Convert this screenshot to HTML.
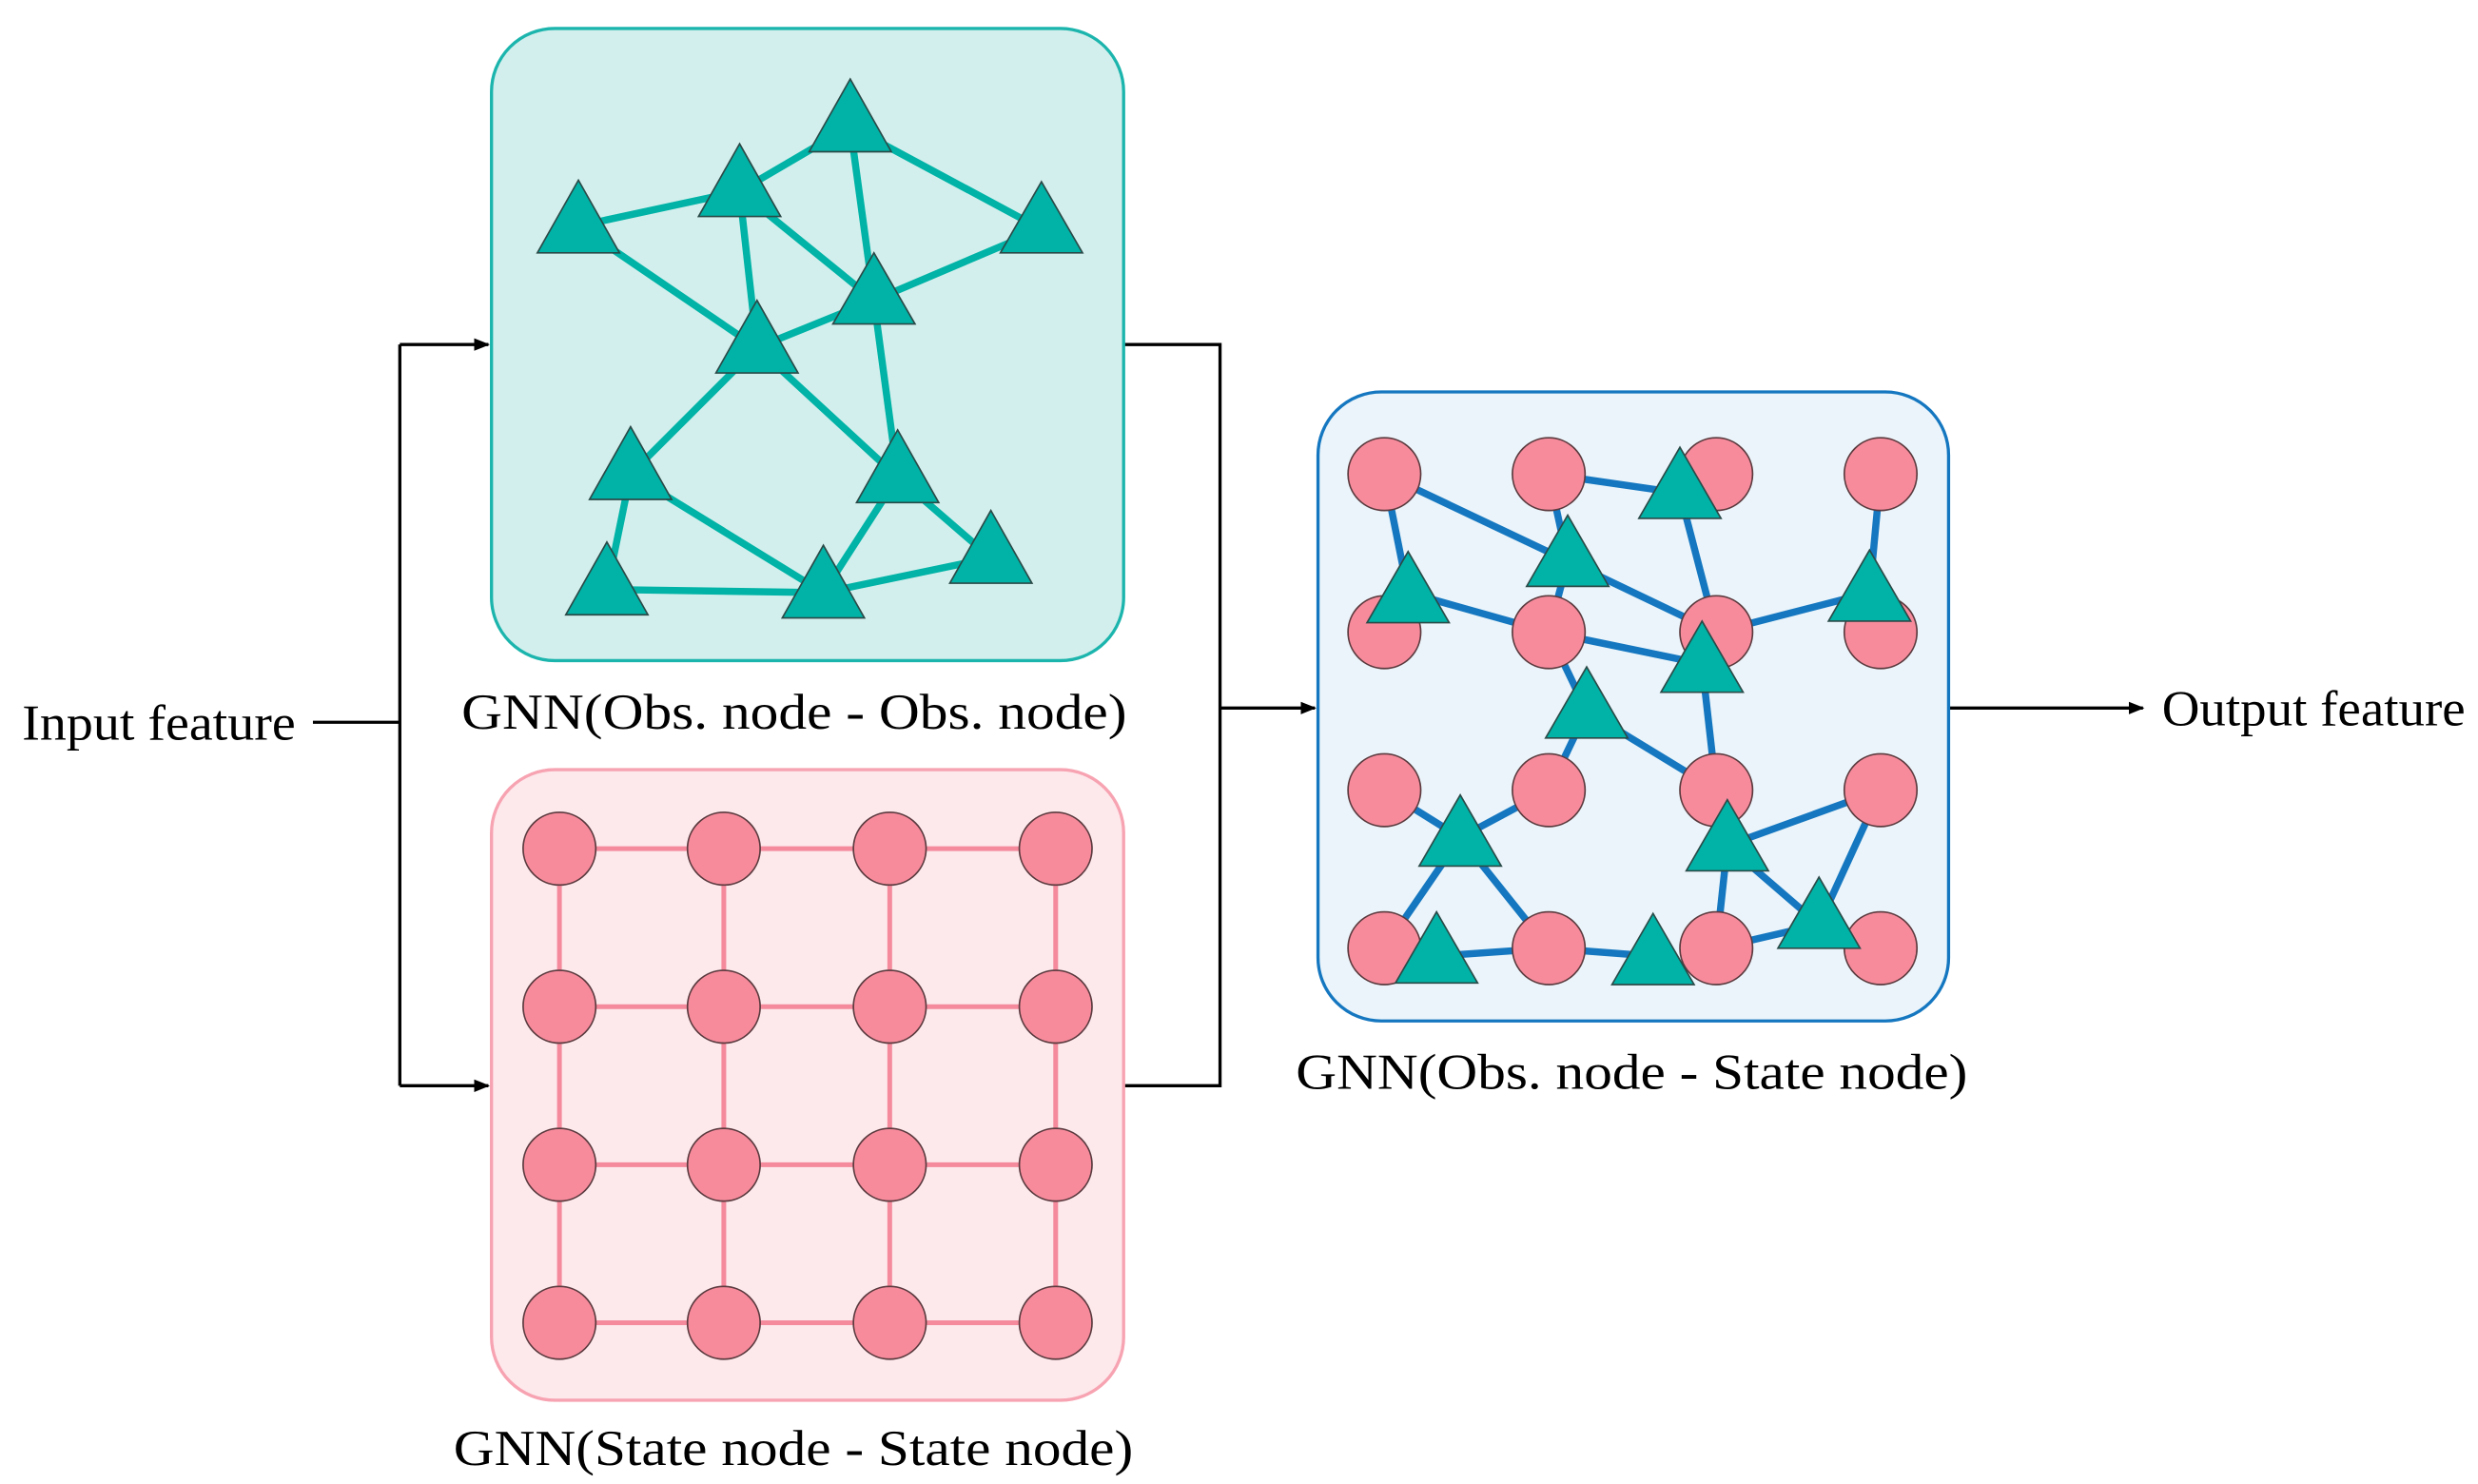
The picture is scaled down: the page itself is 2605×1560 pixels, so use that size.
<!DOCTYPE html>
<html><head><meta charset="utf-8"><style>
html,body{margin:0;padding:0;background:#fff}
svg{display:block}
text{font-family:"Liberation Serif",serif;font-size:32px;fill:#000}
</style></head><body>
<svg width="2605" height="1560" viewBox="0 0 1568 939" xmlns="http://www.w3.org/2000/svg">
<defs><marker id="ar" markerWidth="10" markerHeight="8" refX="9" refY="4" orient="auto" markerUnits="userSpaceOnUse"><path d="M0,0 L10,4 L0,8 z" fill="#000"/></marker></defs>
<g stroke="#000" stroke-width="2" fill="none">
<path d="M198,457 H253"/>
<path d="M253,218 V687"/>
<path d="M253,218 H309" marker-end="url(#ar)"/>
<path d="M253,687 H309" marker-end="url(#ar)"/>
<path d="M711,218 H772 V687 H711"/>
<path d="M772,448 H832" marker-end="url(#ar)"/>
<path d="M1233,448 H1356" marker-end="url(#ar)"/>
</g>
<rect x="311" y="18" width="400" height="400" rx="40" fill="#d3efed" stroke="#1cb5ad" stroke-width="2"/>
<rect x="311" y="487" width="400" height="399" rx="40" fill="#fde8eb" stroke="#f7a3b1" stroke-width="2"/>
<rect x="834" y="248" width="399" height="398" rx="40" fill="#eaf4fa" stroke="#1577c0" stroke-width="2"/>
<g stroke="#00b3a6" stroke-width="4.5">
<line x1="366" y1="143" x2="468" y2="121"/><line x1="468" y1="121" x2="538" y2="80"/>
<line x1="538" y1="80" x2="659" y2="145"/><line x1="538" y1="80" x2="553" y2="190"/>
<line x1="468" y1="121" x2="553" y2="190"/><line x1="468" y1="121" x2="479" y2="220"/>
<line x1="366" y1="143" x2="479" y2="220"/><line x1="553" y1="190" x2="479" y2="220"/>
<line x1="659" y1="145" x2="553" y2="190"/><line x1="479" y1="220" x2="399" y2="300"/>
<line x1="479" y1="220" x2="568" y2="302"/><line x1="553" y1="190" x2="568" y2="302"/>
<line x1="399" y1="300" x2="384" y2="373"/><line x1="399" y1="300" x2="521" y2="375"/>
<line x1="384" y1="373" x2="521" y2="375"/><line x1="568" y1="302" x2="521" y2="375"/>
<line x1="568" y1="302" x2="627" y2="353"/><line x1="521" y1="375" x2="627" y2="353"/>
</g>
<g fill="#00b3a6" stroke="#2a4a48" stroke-width="1">
<path d="M366,114 L392,160 L340,160Z"/><path d="M468,91 L494,137 L442,137Z"/>
<path d="M538,50 L564,96 L512,96Z"/><path d="M659,115 L685,160 L633,160Z"/>
<path d="M553,160 L579,205 L527,205Z"/><path d="M479,190 L505,236 L453,236Z"/>
<path d="M399,270 L425,316 L373,316Z"/><path d="M568,272 L594,318 L542,318Z"/>
<path d="M384,343 L410,389 L358,389Z"/><path d="M521,345 L547,391 L495,391Z"/>
<path d="M627,323 L653,369 L601,369Z"/>
</g>
<g stroke="#f48a9c" stroke-width="3">
<line x1="354" y1="537" x2="668" y2="537"/><line x1="354" y1="637" x2="668" y2="637"/>
<line x1="354" y1="737" x2="668" y2="737"/><line x1="354" y1="837" x2="668" y2="837"/>
<line x1="354" y1="537" x2="354" y2="837"/><line x1="458" y1="537" x2="458" y2="837"/>
<line x1="563" y1="537" x2="563" y2="837"/><line x1="668" y1="537" x2="668" y2="837"/>
</g>
<g fill="#f78b9c" stroke="#5a3a3e" stroke-width="1">
<circle cx="354" cy="537" r="23"/><circle cx="458" cy="537" r="23"/><circle cx="563" cy="537" r="23"/><circle cx="668" cy="537" r="23"/>
<circle cx="354" cy="637" r="23"/><circle cx="458" cy="637" r="23"/><circle cx="563" cy="637" r="23"/><circle cx="668" cy="637" r="23"/>
<circle cx="354" cy="737" r="23"/><circle cx="458" cy="737" r="23"/><circle cx="563" cy="737" r="23"/><circle cx="668" cy="737" r="23"/>
<circle cx="354" cy="837" r="23"/><circle cx="458" cy="837" r="23"/><circle cx="563" cy="837" r="23"/><circle cx="668" cy="837" r="23"/>
</g>
<g stroke="#1577c0" stroke-width="4.5">
<line x1="876" y1="300" x2="891" y2="375"/><line x1="876" y1="300" x2="992" y2="355"/>
<line x1="980" y1="300" x2="1063" y2="312"/><line x1="980" y1="300" x2="992" y2="355"/>
<line x1="1063" y1="312" x2="1086" y2="400"/><line x1="1190" y1="300" x2="1183" y2="375"/>
<line x1="891" y1="375" x2="980" y2="400"/><line x1="992" y1="355" x2="980" y2="400"/>
<line x1="992" y1="355" x2="1086" y2="400"/><line x1="980" y1="400" x2="1077" y2="420"/>
<line x1="1086" y1="400" x2="1183" y2="375"/><line x1="980" y1="400" x2="1004" y2="450"/>
<line x1="1077" y1="420" x2="1086" y2="500"/><line x1="1004" y1="450" x2="980" y2="500"/>
<line x1="1004" y1="450" x2="1086" y2="500"/><line x1="876" y1="500" x2="924" y2="530"/>
<line x1="924" y1="530" x2="980" y2="500"/><line x1="924" y1="530" x2="876" y2="600"/>
<line x1="924" y1="530" x2="980" y2="600"/><line x1="909" y1="605" x2="980" y2="600"/>
<line x1="980" y1="600" x2="1046" y2="605"/><line x1="1093" y1="535" x2="1086" y2="600"/>
<line x1="1093" y1="535" x2="1190" y2="500"/><line x1="1093" y1="535" x2="1151" y2="585"/>
<line x1="1151" y1="585" x2="1190" y2="500"/><line x1="1086" y1="600" x2="1151" y2="585"/>
</g>
<g fill="#f78b9c" stroke="#5a3a3e" stroke-width="1">
<circle cx="876" cy="300" r="23"/><circle cx="980" cy="300" r="23"/><circle cx="1086" cy="300" r="23"/><circle cx="1190" cy="300" r="23"/>
<circle cx="876" cy="400" r="23"/><circle cx="980" cy="400" r="23"/><circle cx="1086" cy="400" r="23"/><circle cx="1190" cy="400" r="23"/>
<circle cx="876" cy="500" r="23"/><circle cx="980" cy="500" r="23"/><circle cx="1086" cy="500" r="23"/><circle cx="1190" cy="500" r="23"/>
<circle cx="876" cy="600" r="23"/><circle cx="980" cy="600" r="23"/><circle cx="1086" cy="600" r="23"/><circle cx="1190" cy="600" r="23"/>
</g>
<g fill="#00b3a6" stroke="#2a4a48" stroke-width="1">
<path d="M1063,283 L1089,328 L1037,328Z"/><path d="M992,326 L1018,371 L966,371Z"/>
<path d="M891,349 L917,394 L865,394Z"/><path d="M1183,348 L1209,393 L1157,393Z"/>
<path d="M1077,393 L1103,438 L1051,438Z"/><path d="M1004,422 L1030,467 L978,467Z"/>
<path d="M924,503 L950,548 L898,548Z"/><path d="M1093,506 L1119,551 L1067,551Z"/>
<path d="M909,577 L935,622 L883,622Z"/><path d="M1046,578 L1072,623 L1020,623Z"/>
<path d="M1151,555 L1177,600 L1125,600Z"/>
</g>
<text x="14" y="468" textLength="173" lengthAdjust="spacingAndGlyphs">Input feature</text>
<text x="292" y="461" textLength="421" lengthAdjust="spacingAndGlyphs">GNN(Obs. node - Obs. node)</text>
<text x="287" y="927" textLength="430" lengthAdjust="spacingAndGlyphs">GNN(State node - State node)</text>
<text x="820" y="689" textLength="425" lengthAdjust="spacingAndGlyphs">GNN(Obs. node - State node)</text>
<text x="1368" y="459" textLength="192" lengthAdjust="spacingAndGlyphs">Output feature</text>
</svg>
</body></html>
